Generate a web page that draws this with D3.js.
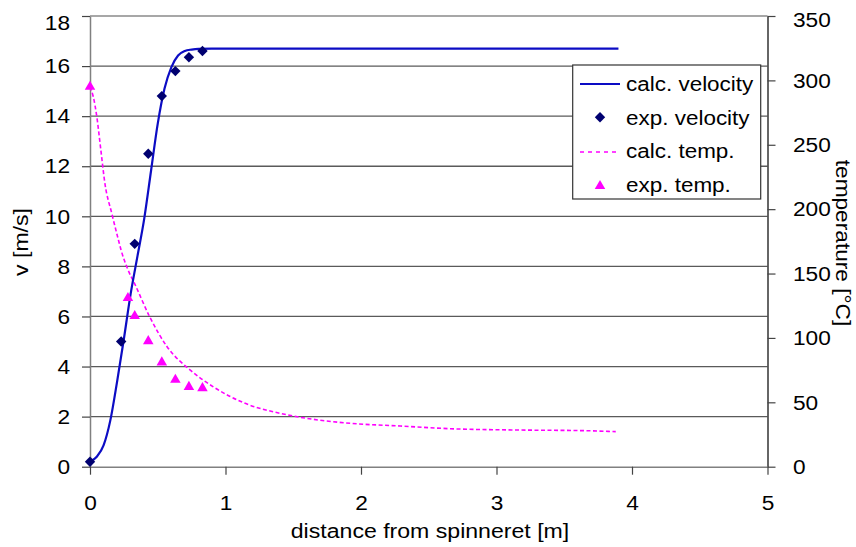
<!DOCTYPE html>
<html>
<head>
<meta charset="utf-8">
<script src="https://cdn.jsdelivr.net/npm/d3@7"></script>
<style>
  html, body { margin: 0; padding: 0; background: #fff; }
  svg { display: block; font-family: "Liberation Sans", Arial, sans-serif; }
</style>
</head>
<body>
<svg id="chart" width="856" height="547"></svg>
<script>
// Axis ticks
const xTicks = [0, 1, 2, 3, 4, 5];
const vTicks = [0, 2, 4, 6, 8, 10, 12, 14, 16, 18];
const tTicks = [0, 50, 100, 150, 200, 250, 300, 350];

// Calculated velocity profile [m] -> [m/s]
const calcVelX = [0, 0.05, 0.1, 0.15, 0.2, 0.25, 0.3, 0.35, 0.4, 0.45, 0.5, 0.55, 0.6, 0.65, 0.7, 0.75, 0.8, 0.9, 2.0, 3.9];
const calcVelV = [0.2, 0.4, 0.85, 1.85, 3.4, 5.1, 6.9, 8.4, 9.9, 11.8, 13.7, 15.1, 15.95, 16.42, 16.6, 16.66, 16.69, 16.7, 16.7, 16.7];

// Measured velocity
const expVelX = [0, 0.23, 0.33, 0.43, 0.53, 0.63, 0.73, 0.83];
const expVelV = [0.2, 5.0, 8.9, 12.5, 14.8, 15.8, 16.35, 16.6];

// Calculated temperature profile [m] -> [°C]
const calcTempX = [0, 0.025, 0.05, 0.08, 0.11, 0.16, 0.21, 0.23, 0.28, 0.33, 0.44, 0.57, 0.74, 0.91, 1.15, 1.4, 1.55, 1.92, 2.29, 2.66, 3.15, 3.64, 3.88];
const calcTempT = [295, 287, 272, 246, 220, 197, 176, 168, 153, 142, 116.5, 93, 75, 62, 49, 41.5, 38.4, 33.7, 31.6, 29.5, 28.5, 28.0, 27.2];

// Measured temperature
const expTempX = [0, 0.28, 0.33, 0.43, 0.53, 0.63, 0.73, 0.83];
const expTempT = [295, 131, 117, 97.5, 81, 67.5, 62, 61];

const legendItems = ["calc. velocity", "exp. velocity", "calc. temp.", "exp. temp."];

const FS = 21;        // font size
const SX = 1.08;      // glyph widening
const plot = { left: 90, right: 767.5, top: 16, bottom: 466.7 };
const blue = "#0c0cc4", navy = "#000070", magenta = "#ff00ff";

const svg = d3.select("#chart");

const x = d3.scaleLinear().domain([0, 5]).range([plot.left, plot.right]);
const yV = d3.scaleLinear().domain([0, 18]).range([plot.bottom, plot.top]);
const yT = d3.scaleLinear().domain([0, 350]).range([plot.bottom, plot.top]);

// Horizontal gridlines from the velocity axis
svg.append("g")
  .selectAll("line")
  .data(vTicks.filter(d => d > 0))
  .join("line")
  .attr("x1", plot.left).attr("x2", plot.right)
  .attr("y1", d => yV(d)).attr("y2", d => yV(d))
  .attr("stroke", d => d === 18 ? "#8a8a8a" : "#5a5a5a")
  .attr("stroke-width", 1.3);

function styleAxis(g, domainColor) {
  g.select(".domain").attr("stroke", domainColor).attr("stroke-width", 1.5);
  g.selectAll(".tick line").attr("stroke", "#444").attr("stroke-width", 1.2);
  g.selectAll(".tick text")
    .attr("font-size", FS)
    .attr("font-family", '"Liberation Sans", Arial, sans-serif')
    .attr("fill", "#000");
}

const intFmt = d3.format("d");

// Left axis (velocity)
const gL = svg.append("g")
  .attr("transform", `translate(${plot.left},0)`)
  .call(d3.axisLeft(yV).tickValues(vTicks).tickFormat(intFmt).tickSize(8).tickPadding(12).tickSizeOuter(0));
styleAxis(gL, "#808080");
gL.selectAll(".tick text")
  .attr("x", -20 / SX)
  .attr("transform", `scale(${SX},1)`)
  .attr("y", d => d === 18 ? 6.5 : 0);

// Right axis (temperature)
const gR = svg.append("g")
  .attr("transform", `translate(${plot.right},0)`)
  .call(d3.axisRight(yT).tickValues(tTicks).tickFormat(intFmt).tickSize(8).tickPadding(17).tickSizeOuter(0));
styleAxis(gR, "#333");
gR.selectAll(".tick text")
  .attr("x", 25.5 / SX)
  .attr("transform", `scale(${SX},1)`)
  .attr("y", d => d === 350 ? 4 : 0);

// Bottom axis (distance)
const gB = svg.append("g")
  .attr("transform", `translate(0,${plot.bottom})`)
  .call(d3.axisBottom(x).tickValues(xTicks).tickFormat(intFmt).tickSize(8).tickPadding(20).tickSizeOuter(0));
styleAxis(gB, "#808080");
gB.selectAll(".tick text").attr("transform", `scale(${SX},1)`).attr("x", 0);

// Calculated temperature (dashed)
const calcTemp = calcTempX.map((d, i) => [d, calcTempT[i]]);
svg.append("path")
  .datum(calcTemp)
  .attr("fill", "none")
  .attr("stroke", magenta)
  .attr("stroke-width", 1.6)
  .attr("stroke-dasharray", "4,2.5")
  .attr("d", d3.line().x(d => x(d[0])).y(d => yT(d[1])).curve(d3.curveMonotoneX));

// Calculated velocity
const calcVel = calcVelX.map((d, i) => [d, calcVelV[i]]);
svg.append("path")
  .datum(calcVel)
  .attr("fill", "none")
  .attr("stroke", blue)
  .attr("stroke-width", 2.2)
  .attr("d", d3.line().x(d => x(d[0])).y(d => yV(d[1])).curve(d3.curveMonotoneX));

const diamond = d3.symbol().type(d3.symbolSquare).size(54)();
const triangle = d3.symbol().type(d3.symbolTriangle).size(48)();

// Measured temperature markers
svg.append("g")
  .selectAll("path")
  .data(expTempX.map((d, i) => [d, expTempT[i]]))
  .join("path")
  .attr("d", triangle)
  .attr("fill", magenta)
  .attr("transform", d => `translate(${x(d[0])},${yT(d[1])})`);

// Measured velocity markers
svg.append("g")
  .selectAll("path")
  .data(expVelX.map((d, i) => [d, expVelV[i]]))
  .join("path")
  .attr("d", diamond)
  .attr("fill", navy)
  .attr("transform", d => `translate(${x(d[0])},${yV(d[1])}) rotate(45)`);

// Legend
const lg = svg.append("g");
lg.append("rect")
  .attr("x", 572.7).attr("y", 65).attr("width", 188).attr("height", 134)
  .attr("fill", "#fff").attr("stroke", "#333").attr("stroke-width", 1.2);
const rowBase = [91, 124.5, 158, 191.5];
lg.append("line").attr("x1", 580).attr("x2", 620).attr("y1", 84).attr("y2", 84)
  .attr("stroke", blue).attr("stroke-width", 2.2);
lg.append("path").attr("d", diamond).attr("fill", navy)
  .attr("transform", "translate(600,117.3) rotate(45)");
lg.append("line").attr("x1", 580).attr("x2", 618).attr("y1", 152).attr("y2", 152)
  .attr("stroke", magenta).attr("stroke-width", 1.6).attr("stroke-dasharray", "4,4");
lg.append("path").attr("d", triangle).attr("fill", magenta)
  .attr("transform", "translate(600,186)");
legendItems.forEach((t, i) => {
  lg.append("text")
    .attr("transform", `translate(626,${rowBase[i]}) scale(1.07,1)`)
    .attr("font-size", FS)
    .attr("fill", "#000")
    .text(t);
});

// Axis titles
svg.append("text")
  .attr("transform", `translate(430,538) scale(1.1,1)`)
  .attr("text-anchor", "middle")
  .attr("font-size", FS)
  .text("distance from spinneret [m]");

svg.append("text")
  .attr("transform", `translate(27.5,242) rotate(-90) scale(1.1,1)`)
  .attr("text-anchor", "middle")
  .attr("font-size", FS)
  .text("v [m/s]");

svg.append("text")
  .attr("transform", `translate(836,243) rotate(90) scale(1.08,1)`)
  .attr("text-anchor", "middle")
  .attr("font-size", FS)
  .text("temperature [°C]");
</script>
</body>
</html>
